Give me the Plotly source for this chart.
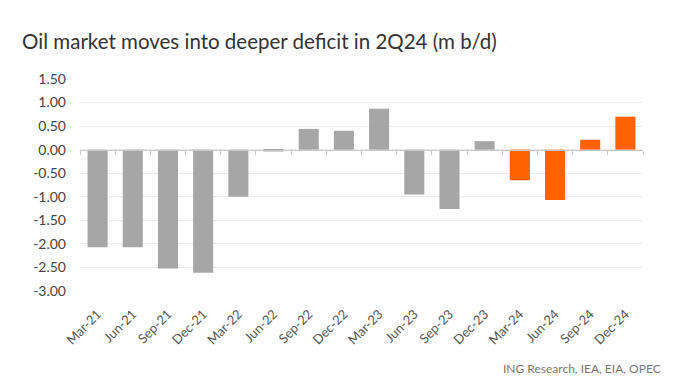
import plotly.graph_objects as go

categories = ["Mar-21", "Jun-21", "Sep-21", "Dec-21", "Mar-22", "Jun-22", "Sep-22", "Dec-22",
              "Mar-23", "Jun-23", "Sep-23", "Dec-23", "Mar-24", "Jun-24", "Sep-24", "Dec-24"]
balance = [-2.07, -2.07, -2.52, -2.61, -1.00, -0.04, 0.44, 0.40,
           0.87, -0.95, -1.26, 0.18, -0.65, -1.07, 0.21, 0.70]
forecast_from = "Mar-24"

GRAY = "#A6A6A6"
ORANGE = "#FF6200"
fidx = categories.index(forecast_from)
colors = [GRAY if i < fidx else ORANGE for i in range(len(categories))]

ymin, ymax = -3.02, 1.52
zero_pos = (0 - ymin) / (ymax - ymin)
xrange_ = [-0.5, len(categories) - 0.5]

fig = go.Figure()
fig.add_trace(go.Bar(x=categories, y=balance, marker=dict(color=colors, line=dict(width=0)),
                     xaxis="x", yaxis="y", showlegend=False, hoverinfo="x+y"))
fig.add_trace(go.Scatter(x=categories, y=[None] * len(categories), xaxis="x2", yaxis="y",
                         mode="lines", showlegend=False, hoverinfo="skip"))

font_family = "Lato, 'Noto Sans', sans-serif"
# page body has an 8px margin, so the figure is sized 672x379
fig.update_layout(
    width=672, height=379,
    margin=dict(l=72, r=37, t=70, b=95, autoexpand=False),
    paper_bgcolor="white", plot_bgcolor="white",
    bargap=0.43,
    font=dict(family=font_family, color="#444444"),
    title=dict(text="Oil market moves into deeper deficit in 2Q24 (m b/d)",
               xref="container", x=0.021, xanchor="left",
               yref="container", y=0.91, yanchor="middle",
               font=dict(size=20.5, color="#333333", family=font_family)),
    xaxis=dict(type="category", categoryorder="array", categoryarray=categories,
               range=xrange_, autorange=False,
               tickangle=-45, tickfont=dict(size=13, color="#555555"), automargin=False,
               showgrid=False, showline=False, ticks="", zeroline=False,
               ticklabelstandoff=11),
    xaxis2=dict(type="category", categoryorder="array", categoryarray=categories,
                range=xrange_, autorange=False,
                overlaying="x", anchor="free", position=zero_pos, side="bottom",
                showticklabels=False, showline=True, linecolor="#C8C8C8",
                linewidth=1, ticks="outside", tickson="boundaries", ticklen=4,
                tickcolor="#C8C8C8", showgrid=False, automargin=False),
    yaxis=dict(range=[ymin, ymax], tickmode="array", automargin=False,
               tickvals=[1.5, 1.0, 0.5, 0.0, -0.5, -1.0, -1.5, -2.0, -2.5, -3.0],
               ticktext=["1.50", "1.00", "0.50", "0.00", "-0.50", "-1.00", "-1.50",
                         "-2.00", "-2.50", "-3.00"],
               tickfont=dict(size=14, color="#444444"),
               showgrid=True, gridcolor="#EBEBEB", gridwidth=1,
               zeroline=False, showline=False, ticks="", ticklabelstandoff=13),
    annotations=[dict(text="ING Research, IEA, EIA, OPEC", xref="paper", yref="paper",
                      x=1.0355, y=-0.358, xanchor="right", yanchor="middle", showarrow=False,
                      font=dict(size=12, color="#777777", family=font_family))],
)

fig.write_html("out.html")
